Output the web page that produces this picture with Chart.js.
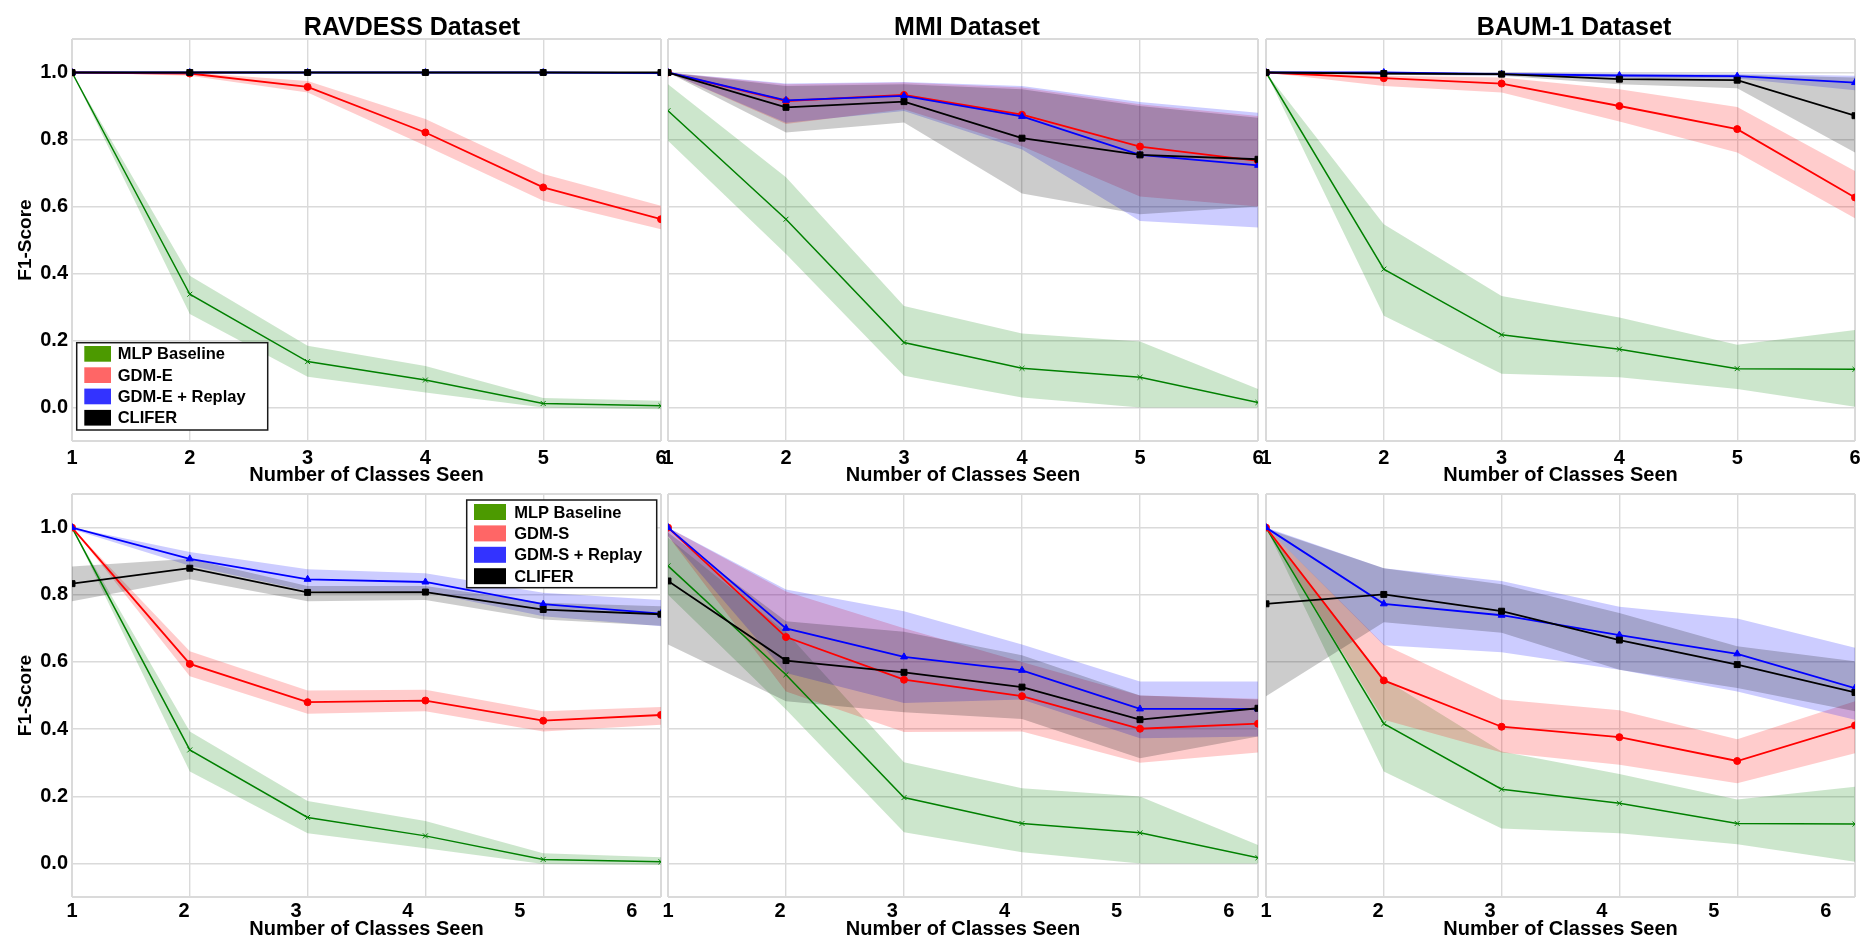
<!DOCTYPE html>
<html>
<head>
<meta charset="utf-8">
<script src="https://cdn.jsdelivr.net/npm/chart.js@4.4.1/dist/chart.umd.min.js"></script>
<style>
  html, body { margin: 0; padding: 0; background: #fff; overflow: hidden; width: 1861px; height: 940px; }
  canvas { position: absolute; }
</style>
</head>
<body>
<canvas id="p1"></canvas>
<canvas id="p2"></canvas>
<canvas id="p3"></canvas>
<canvas id="p4"></canvas>
<canvas id="p5"></canvas>
<canvas id="p6"></canvas>
<script>
// x values and y ticks
const classes = [1, 2, 3, 4, 5, 6];
const yTickValues = [0, 0.2, 0.4, 0.6, 0.8, 1.0];
const yEdges = [-0.1, 1.1];

// series order: MLP Baseline, GDM, GDM + Replay, CLIFER
const namesE = ['MLP Baseline', 'GDM-E', 'GDM-E + Replay', 'CLIFER'];
const namesS = ['MLP Baseline', 'GDM-S', 'GDM-S + Replay', 'CLIFER'];

// RAVDESS, episodic memory (top left)
const ravEMean = [
  [1.0, 0.338, 0.137, 0.082, 0.012, 0.005],
  [1.0, 0.997, 0.957, 0.821, 0.657, 0.562],
  [1.0, 1.0, 1.0, 1.0, 1.0, 0.998],
  [1.0, 1.0, 1.0, 1.0, 1.0, 1.0]
];
const ravELow = [
  [1.0, 0.279, 0.092, 0.045, 0.0, -0.005],
  [1.0, 0.99, 0.94, 0.781, 0.617, 0.532],
  [1.0, 0.998, 0.998, 0.998, 0.997, 0.995],
  [1.0, 1.0, 1.0, 1.0, 1.0, 1.0]
];
const ravEHigh = [
  [1.0, 0.393, 0.184, 0.124, 0.028, 0.02],
  [1.0, 1.0, 0.975, 0.861, 0.697, 0.602],
  [1.0, 1.0, 1.0, 1.0, 1.0, 1.0],
  [1.0, 1.0, 1.0, 1.0, 1.0, 1.0]
];

// MMI, episodic memory (top middle)
const mmiEMean = [
  [0.886, 0.562, 0.194, 0.117, 0.090, 0.015],
  [1.0, 0.915, 0.933, 0.874, 0.779, 0.736],
  [1.0, 0.917, 0.930, 0.869, 0.754, 0.723],
  [1.0, 0.896, 0.913, 0.804, 0.754, 0.741]
];
const mmiELow = [
  [0.796, 0.458, 0.095, 0.030, 0.0, 0.0],
  [1.0, 0.846, 0.89, 0.78, 0.63, 0.60],
  [1.0, 0.85, 0.885, 0.77, 0.557, 0.537],
  [1.0, 0.821, 0.851, 0.639, 0.577, 0.60]
];
const mmiEHigh = [
  [0.965, 0.687, 0.303, 0.221, 0.197, 0.055],
  [1.0, 0.965, 0.97, 0.955, 0.905, 0.87],
  [1.0, 0.967, 0.972, 0.96, 0.912, 0.88],
  [1.0, 0.96, 0.965, 0.95, 0.90, 0.865]
];

// BAUM-1, episodic memory (top right)
const baumEMean = [
  [1.0, 0.413, 0.217, 0.174, 0.116, 0.114],
  [1.0, 0.983, 0.967, 0.90, 0.831, 0.627],
  [1.0, 1.0, 0.995, 0.991, 0.989, 0.97],
  [1.0, 0.997, 0.995, 0.98, 0.977, 0.871]
];
const baumELow = [
  [1.0, 0.274, 0.101, 0.09, 0.055, 0.002],
  [1.0, 0.96, 0.94, 0.854, 0.761, 0.565],
  [1.0, 0.995, 0.99, 0.985, 0.982, 0.947],
  [1.0, 0.993, 0.99, 0.965, 0.953, 0.761]
];
const baumEHigh = [
  [1.0, 0.547, 0.333, 0.269, 0.187, 0.231],
  [1.0, 0.99, 0.985, 0.95, 0.897, 0.706],
  [1.0, 1.0, 1.0, 0.997, 0.996, 0.99],
  [1.0, 1.0, 0.998, 0.995, 0.993, 0.985]
];

// RAVDESS, semantic memory (bottom left)
const ravSMean = [
  [1.0, 0.338, 0.137, 0.082, 0.012, 0.005],
  [1.0, 0.594, 0.480, 0.485, 0.425, 0.442],
  [1.0, 0.907, 0.846, 0.838, 0.772, 0.744],
  [0.833, 0.879, 0.807, 0.808, 0.756, 0.742]
];
const ravSLow = [
  [1.0, 0.274, 0.09, 0.045, -0.002, -0.005],
  [1.0, 0.557, 0.446, 0.453, 0.393, 0.413],
  [0.995, 0.886, 0.811, 0.808, 0.736, 0.706],
  [0.781, 0.846, 0.781, 0.784, 0.726, 0.708]
];
const ravSHigh = [
  [1.0, 0.393, 0.186, 0.126, 0.03, 0.018],
  [1.0, 0.632, 0.515, 0.517, 0.453, 0.466],
  [1.0, 0.927, 0.876, 0.864, 0.806, 0.784],
  [0.884, 0.907, 0.826, 0.826, 0.776, 0.766]
];

// MMI, semantic memory (bottom middle)
const mmiSMean = [
  [0.886, 0.562, 0.196, 0.119, 0.091, 0.017],
  [1.0, 0.674, 0.547, 0.498, 0.401, 0.416],
  [1.0, 0.700, 0.615, 0.575, 0.46, 0.46],
  [0.841, 0.604, 0.569, 0.525, 0.428, 0.462]
];
const mmiSLow = [
  [0.80, 0.458, 0.093, 0.033, 0.0, 0.0],
  [0.975, 0.512, 0.391, 0.393, 0.30, 0.33],
  [0.975, 0.567, 0.478, 0.488, 0.373, 0.378],
  [0.652, 0.483, 0.45, 0.43, 0.313, 0.378]
];
const mmiSHigh = [
  [0.97, 0.689, 0.301, 0.224, 0.199, 0.055],
  [1.0, 0.81, 0.70, 0.60, 0.50, 0.49],
  [1.0, 0.816, 0.751, 0.652, 0.542, 0.542],
  [0.985, 0.721, 0.69, 0.62, 0.50, 0.488]
];

// BAUM-1, semantic memory (bottom right)
const baumSMean = [
  [1.0, 0.416, 0.221, 0.179, 0.119, 0.117],
  [1.0, 0.545, 0.407, 0.376, 0.305, 0.411],
  [1.0, 0.773, 0.739, 0.680, 0.624, 0.522],
  [0.773, 0.801, 0.751, 0.665, 0.592, 0.509]
];
const baumSLow = [
  [1.0, 0.274, 0.104, 0.09, 0.057, 0.005],
  [1.0, 0.428, 0.330, 0.294, 0.239, 0.328],
  [1.0, 0.65, 0.629, 0.577, 0.512, 0.428],
  [0.498, 0.718, 0.687, 0.577, 0.522, 0.453]
];
const baumSHigh = [
  [1.0, 0.55, 0.333, 0.266, 0.19, 0.228],
  [1.0, 0.652, 0.488, 0.456, 0.37, 0.483],
  [1.0, 0.879, 0.841, 0.764, 0.729, 0.642],
  [0.997, 0.879, 0.831, 0.746, 0.647, 0.602]
];

// styles
const lineColors = ['#008000', '#ff0000', '#0000ff', '#000000'];
const bandColors = ['rgba(0,128,0,0.2)', 'rgba(255,0,0,0.2)', 'rgba(0,0,255,0.2)', 'rgba(0,0,0,0.2)'];
const legendColors = ['#4c9a00', '#ff6666', '#3333ff', '#000000'];
const markers = ['crossRot', 'circle', 'triangle', 'rect'];
const markerSizes = [3.5, 3.5, 4, 4.2];
const lineWidths = [1.5, 1.8, 1.8, 1.8];
const gridColor = '#dadada';
const FONT = '"Liberation Sans", Arial, Helvetica, sans-serif';

Chart.defaults.font.family = FONT;
Chart.defaults.font.weight = 'bold';
Chart.defaults.color = '#000';

// panel title drawn above the plot box
const panelTitle = {
  id: 'panelTitle',
  afterDraw(chart, args, o) {
    if (!o || !o.text) return;
    const ctx = chart.ctx;
    ctx.save();
    ctx.font = 'bold 25px ' + FONT;
    ctx.fillStyle = '#000';
    ctx.textAlign = 'center';
    ctx.textBaseline = 'alphabetic';
    ctx.fillText(o.text, o.x, o.y);
    ctx.restore();
  }
};

// framed legend inside the plot box, as in the paper figure
const boxLegend = {
  id: 'boxLegend',
  afterDatasetsDraw(chart, args, o) {
    if (!o || !o.labels) return;
    const ctx = chart.ctx;
    ctx.save();
    ctx.fillStyle = '#fff';
    ctx.fillRect(o.x, o.y, o.w, o.h);
    ctx.lineWidth = 1.5;
    ctx.strokeStyle = '#1a1a1a';
    ctx.strokeRect(o.x, o.y, o.w, o.h);
    ctx.font = 'bold 16.5px ' + FONT;
    ctx.textBaseline = 'middle';
    ctx.textAlign = 'left';
    o.labels.forEach((label, i) => {
      const top = o.y + o.swatchTop + i * o.rowH;
      ctx.fillStyle = legendColors[i];
      ctx.fillRect(o.x + o.swatchLeft, top, o.swatchW, o.swatchH);
      ctx.fillStyle = '#000';
      ctx.fillText(label, o.x + o.textLeft, top + o.swatchH / 2 + 1);
    });
    ctx.restore();
  }
};

function toPoints(arr) {
  return arr.map((v, i) => ({ x: classes[i], y: v }));
}

function buildDatasets(mean, low, high) {
  const sets = [];
  mean.forEach((row, s) => {
    sets.push({
      data: toPoints(low[s]), borderWidth: 0, borderColor: 'transparent',
      pointRadius: 0, fill: false, order: 20 - s
    });
    sets.push({
      data: toPoints(high[s]), borderWidth: 0, borderColor: 'transparent',
      pointRadius: 0, backgroundColor: bandColors[s], fill: '-1', order: 20 - s
    });
  });
  mean.forEach((row, s) => {
    sets.push({
      data: toPoints(row),
      borderColor: lineColors[s],
      backgroundColor: lineColors[s],
      borderWidth: lineWidths[s],
      pointStyle: markers[s],
      pointRadius: markerSizes[s],
      pointBorderWidth: 1,
      pointBorderColor: lineColors[s],
      pointBackgroundColor: lineColors[s],
      fill: false,
      order: 4 - s
    });
  });
  return sets;
}

const edgeWidth = edges => c => edges.includes(c.tick.value) ? 2 : 1.4;

function yScale(showLabels) {
  return {
    type: 'linear', min: yEdges[0], max: yEdges[1],
    afterBuildTicks: s => { s.ticks = [yEdges[0], ...yTickValues, yEdges[1]].map(v => ({ value: v })); },
    ticks: {
      display: showLabels, autoSkip: false, padding: 4,
      font: { size: 20, lineHeight: 1 },
      callback: v => yTickValues.includes(v) ? v.toFixed(1) : ''
    },
    grid: { color: gridColor, lineWidth: edgeWidth(yEdges), drawTicks: false },
    border: { display: false },
    title: { display: showLabels, text: 'F1-Score', font: { size: 19, lineHeight: 1 }, padding: { top: 16.5, bottom: 0 } },
    afterFit: s => { s.width = showLabels ? 72 : 0; s.paddingTop = 0; s.paddingBottom = 0; }
  };
}

function xScales(row) {
  const base = {
    type: 'linear', min: classes[0], max: classes[classes.length - 1],
    afterBuildTicks: s => { s.ticks = classes.map(v => ({ value: v })); },
    grid: { color: gridColor, lineWidth: edgeWidth([classes[0], classes[classes.length - 1]]), drawTicks: false },
    border: { display: false }
  };
  const label = { display: true, text: 'Number of Classes Seen', font: { size: 20, lineHeight: 1 }, padding: 0 };
  if (row === 0) {
    return {
      x: Object.assign(base, {
        ticks: { autoSkip: false, maxRotation: 0, padding: 7, font: { size: 20, lineHeight: 1 }, callback: v => String(v) },
        title: label,
        afterFit: s => { s.height = 44; s.paddingLeft = 0; s.paddingRight = 0; }
      })
    };
  }
  // bottom row: tick labels are spread a little tighter than the grid
  return {
    x: Object.assign(base, {
      ticks: { display: false },
      afterFit: s => { s.height = 0; s.paddingLeft = 0; s.paddingRight = 0; }
    }),
    x2: {
      type: 'linear', position: 'bottom', min: 1, max: 6.26,
      afterBuildTicks: s => { s.ticks = classes.map(v => ({ value: v })); },
      ticks: { autoSkip: false, maxRotation: 0, padding: 4, font: { size: 20, lineHeight: 1 }, callback: v => String(v) },
      grid: { display: false, drawTicks: false },
      border: { display: false },
      title: label,
      afterFit: s => { s.height = 42; s.paddingLeft = 0; s.paddingRight = 0; }
    }
  };
}

const panels = [
  { id: 'p1', left: 0, top: 0, width: 680, height: 485, row: 0, yLabels: true,
    pad: { left: 0, right: 19, top: 39, bottom: 0 },
    title: 'RAVDESS Dataset', titleX: 412,
    mean: ravEMean, low: ravELow, high: ravEHigh,
    legend: { labels: namesE, x: 76.7, y: 342.7, w: 191, h: 87.3, swatchLeft: 7.6, swatchTop: 3.3, swatchW: 26.7, swatchH: 15.7, rowH: 21.3, textLeft: 41 } },
  { id: 'p2', left: 650, top: 0, width: 620, height: 485, row: 0, yLabels: false,
    pad: { left: 18, right: 12, top: 39, bottom: 0 },
    title: 'MMI Dataset', titleX: 967,
    mean: mmiEMean, low: mmiELow, high: mmiEHigh },
  { id: 'p3', left: 1248, top: 0, width: 620, height: 485, row: 0, yLabels: false,
    pad: { left: 18, right: 13, top: 39, bottom: 0 },
    title: 'BAUM-1 Dataset', titleX: 1574,
    mean: baumEMean, low: baumELow, high: baumEHigh },
  { id: 'p4', left: 0, top: 480, width: 680, height: 460, row: 1, yLabels: true,
    pad: { left: 0, right: 19, top: 14, bottom: 1 },
    mean: ravSMean, low: ravSLow, high: ravSHigh,
    legend: { labels: namesS, x: 466.7, y: 20, w: 190, h: 87.7, swatchLeft: 7.3, swatchTop: 4, swatchW: 32, swatchH: 16, rowH: 21.4, textLeft: 47.5 } },
  { id: 'p5', left: 650, top: 480, width: 620, height: 460, row: 1, yLabels: false,
    pad: { left: 18, right: 12, top: 14, bottom: 1 },
    mean: mmiSMean, low: mmiSLow, high: mmiSHigh },
  { id: 'p6', left: 1248, top: 480, width: 620, height: 460, row: 1, yLabels: false,
    pad: { left: 18, right: 13, top: 14, bottom: 1 },
    mean: baumSMean, low: baumSLow, high: baumSHigh }
];

panels.forEach(p => {
  const canvas = document.getElementById(p.id);
  canvas.width = p.width;
  canvas.height = p.height;
  canvas.style.left = p.left + 'px';
  canvas.style.top = p.top + 'px';

  const scales = xScales(p.row);
  scales.y = yScale(p.yLabels);

  new Chart(canvas.getContext('2d'), {
    type: 'line',
    data: { datasets: buildDatasets(p.mean, p.low, p.high) },
    options: {
      responsive: false,
      animation: false,
      devicePixelRatio: 1,
      events: [],
      layout: { padding: p.pad },
      scales: scales,
      plugins: {
        legend: { display: false },
        tooltip: { enabled: false },
        panelTitle: p.title ? { text: p.title, x: p.titleX - p.left, y: 35 } : false,
        boxLegend: p.legend ? p.legend : false
      }
    },
    plugins: [panelTitle, boxLegend]
  });
});
</script>
</body>
</html>
